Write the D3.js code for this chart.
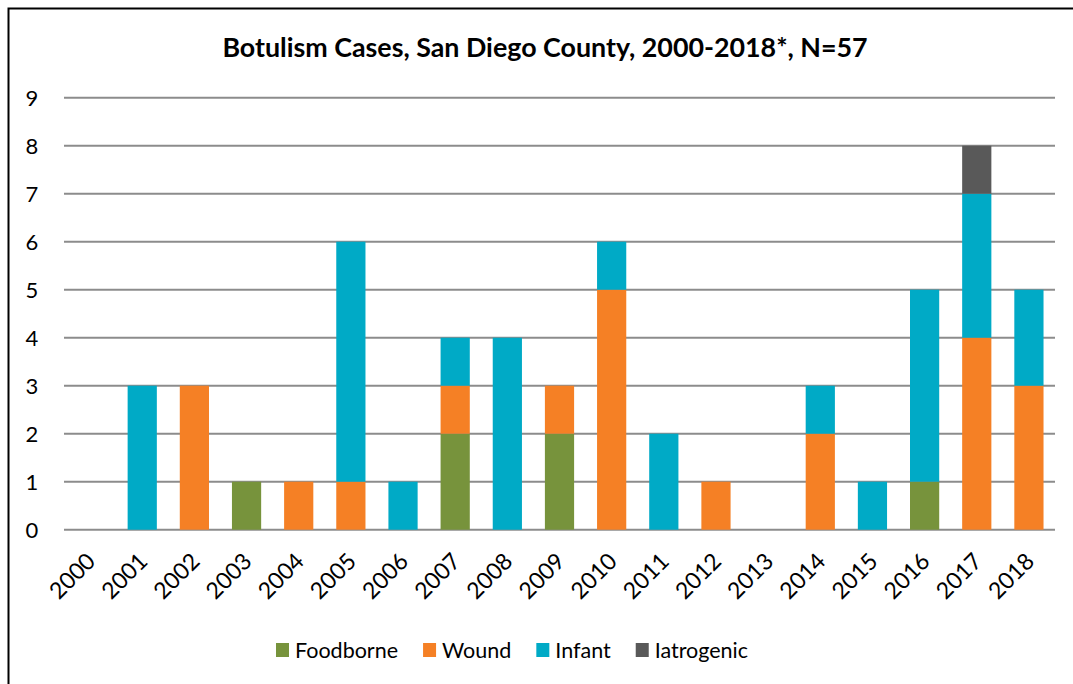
<!DOCTYPE html>
<html>
<head>
<meta charset="utf-8">
<script src="https://cdn.jsdelivr.net/npm/d3@7/dist/d3.min.js"></script>
<style>
  html, body { margin: 0; padding: 0; background: #fff; }
  svg { display: block; }
  text { font-family: Lato, "Open Sans", "Liberation Sans", sans-serif; fill: #000; }
</style>
</head>
<body>
<svg id="chart" width="1073" height="684"></svg>
<script>
const years = ["2000","2001","2002","2003","2004","2005","2006","2007","2008","2009","2010","2011","2012","2013","2014","2015","2016","2017","2018"];
const seriesNames = ["Foodborne","Wound","Infant","Iatrogenic"];
const foodborne  = [0,0,0,1,0,0,0,2,0,2,0,0,0,0,0,0,1,0,0];
const wound      = [0,0,3,0,1,1,0,1,0,1,5,0,1,0,2,0,0,4,3];
const infant     = [0,3,0,0,0,5,1,1,4,0,1,2,0,0,1,1,4,3,2];
const iatrogenic = [0,0,0,0,0,0,0,0,0,0,0,0,0,0,0,0,0,1,0];
const yTicks = [0,1,2,3,4,5,6,7,8,9];
const colors = ["#77933C","#F58025","#00AAC6","#595959"];
const titleText = "Botulism Cases, San Diego County, 2000-2018*, N=57";

const svg = d3.select("#chart");

// outer border (frame continues past right/bottom edges)
svg.append("rect").attr("x", 8.5).attr("y", 8.5).attr("width", 1100).attr("height", 700)
  .attr("fill", "none").attr("stroke", "#000").attr("stroke-width", 2);

const x0 = 64, x1 = 1055, yTop = 97.7, yBottom = 529.7;

const x = d3.scaleBand().domain(years).range([x0, x1]).paddingInner(0.44).paddingOuter(0.22);
const y = d3.scaleLinear().domain([0, 9]).range([yBottom, yTop]);

// title
svg.append("text").attr("x", 545).attr("y", 57).attr("text-anchor", "middle")
  .style("font-size", "26.8px").style("font-weight", "bold").text(titleText);

// gridlines
svg.append("g").selectAll("line").data(yTicks).join("line")
  .attr("x1", x0).attr("x2", x1)
  .attr("y1", d => y(d)).attr("y2", d => y(d))
  .attr("stroke", "#8c8c8c").attr("stroke-width", 2);

// y tick labels
svg.append("g").selectAll("text").data(yTicks).join("text")
  .attr("x", 32).attr("y", d => y(d)).attr("dy", "0.36em").attr("text-anchor", "middle")
  .style("font-size", "22px").text(d => d);

// stacked data
const table = years.map((yr, i) => ({year: yr, Foodborne: foodborne[i], Wound: wound[i], Infant: infant[i], Iatrogenic: iatrogenic[i]}));
const stack = d3.stack().keys(seriesNames)(table);

svg.append("g").selectAll("g").data(stack).join("g")
  .attr("fill", (d, i) => colors[i])
  .selectAll("rect").data(d => d.filter(s => s[1] - s[0] > 0)).join("rect")
  .attr("x", d => x(d.data.year))
  .attr("width", x.bandwidth())
  .attr("y", d => y(d[1]))
  .attr("height", d => y(d[0]) - y(d[1]));

// x tick labels rotated
svg.append("g").selectAll("text").data(years).join("text")
  .attr("transform", d => `translate(${x(d) + x.bandwidth() / 2 + 1},${557}) rotate(-45)`)
  .attr("text-anchor", "end").attr("dy", "0.35em")
  .style("font-size", "23px").text(d => d);

// legend
const legend = svg.append("g");
const items = legend.selectAll("g").data(seriesNames).join("g");
items.append("rect").attr("width", 13).attr("height", 14).attr("y", -7)
  .attr("fill", (d, i) => colors[i]);
items.append("text").attr("x", 19).attr("dy", "0.35em").style("font-size", "21.5px").text(d => d);
let widths = [];
items.each(function() { widths.push(19 + this.querySelector("text").getComputedTextLength()); });
const gap = 25;
const total = d3.sum(widths) + gap * (widths.length - 1);
let cx = 512 - total / 2;
items.attr("transform", (d, i) => {
  const t = `translate(${cx},650)`;
  cx += widths[i] + gap;
  return t;
});
</script>
</body>
</html>
